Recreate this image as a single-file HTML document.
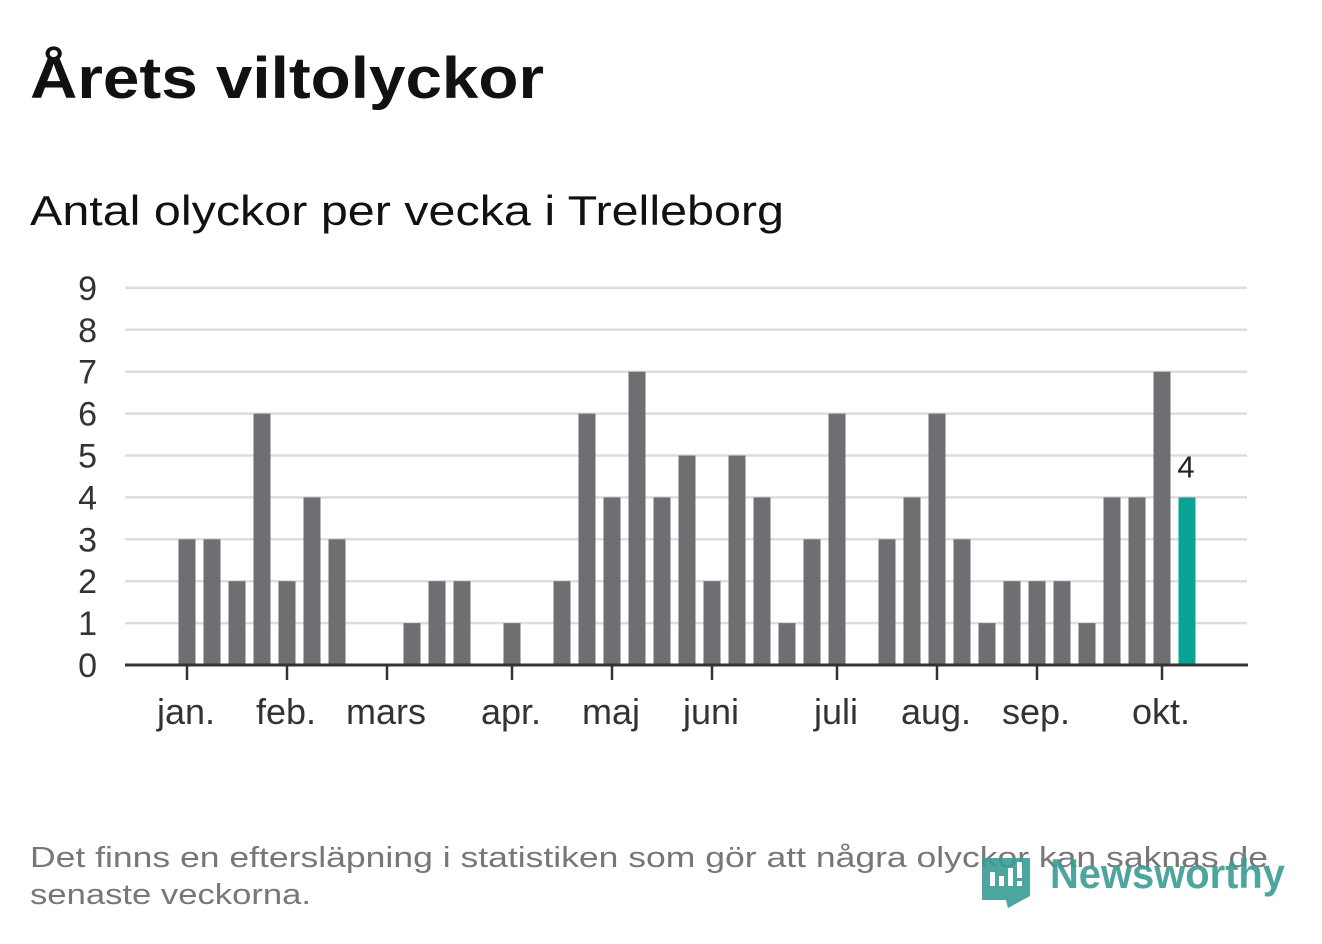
<!DOCTYPE html>
<html><head><meta charset="utf-8"><style>
body{margin:0;background:#fff;width:1322px;height:939px;overflow:hidden;font-family:"Liberation Sans",sans-serif;}
svg text{font-family:"Liberation Sans",sans-serif;}
</style></head><body>
<svg id="c" width="1322" height="939">
<text x="30" y="98" font-size="58" font-weight="bold" fill="#111" textLength="514" lengthAdjust="spacingAndGlyphs">Årets viltolyckor</text>
<text x="30" y="225" font-size="42" fill="#111" textLength="754" lengthAdjust="spacingAndGlyphs">Antal olyckor per vecka i Trelleborg</text>
<g id="grid"></g><g id="bars"></g><g id="xax"></g>
<text x="30" y="867" font-size="29" fill="#777" textLength="1238" lengthAdjust="spacingAndGlyphs">Det finns en eftersläpning i statistiken som gör att några olyckor kan saknas de</text>
<text x="30" y="904" font-size="29" fill="#777" textLength="281" lengthAdjust="spacingAndGlyphs">senaste veckorna.</text>
<g opacity="0.9">
<path d="M982 858 h48 v38 l-22 12 l-2 -8 h-24 z" fill="#3a9c94"/>
<rect x="990" y="872" width="5" height="14" fill="#fff"/><rect x="999" y="876" width="5" height="10" fill="#fff"/><rect x="1008" y="868" width="5" height="18" fill="#fff"/><rect x="1017" y="862" width="5" height="16" fill="#fff"/><rect x="1017" y="881" width="5" height="5" fill="#fff"/>
<text x="1050" y="888" font-size="42" font-weight="bold" fill="#3a9c94" textLength="235" lengthAdjust="spacingAndGlyphs">Newsworthy</text>
</g>
</svg>
<script>
const values=[3,3,2,6,2,4,3,0,0,1,2,2,0,1,0,2,6,4,7,4,5,2,5,4,1,3,6,0,3,4,6,3,1,2,2,2,1,4,4,7,4];
const yTicks=[0,1,2,3,4,5,6,7,8,9];
const months=["jan.","feb.","mars","apr.","maj","juni","juli","aug.","sep.","okt."];
const monthWeek=[0,4,8,13,17,21,26,30,34,39];
const NS="http://www.w3.org/2000/svg";
const x=i=>187+i*25, y=v=>665-v*41.9;
function mk(t,a,p){const e=document.createElementNS(NS,t);for(const k in a)e.setAttribute(k,a[k]);p.appendChild(e);return e;}
const g=document.getElementById('grid'),b=document.getElementById('bars'),xa=document.getElementById('xax');
yTicks.forEach(v=>{
 if(v>0){const l=mk('line',{x1:125,x2:1247,y1:y(v),y2:y(v),stroke:'#ddd','stroke-width':2.5},g);
 
 }
 const t=mk('text',{x:97,y:y(v)+12,'font-size':34,fill:'#333','text-anchor':'end'},g);t.textContent=v;
 
 
});
values.forEach((v,i)=>{
 const last=i===values.length-1;
 const r=mk('rect',{x:x(i)-8.5,y:y(v),width:17,height:v*41.9,fill:last?'#0ca397':'#6f6e73'},b);
 
 
 if(last){const t=mk('text',{x:x(i)-1,y:y(v)-20,'font-size':31,fill:'#222','text-anchor':'middle'},b);t.textContent=v;
 
 }
});
const ax=mk('line',{x1:125,x2:1248,y1:665,y2:665,stroke:'#333','stroke-width':3},xa);


months.forEach((m,k)=>{
 const px=x(monthWeek[k]);
 const tk=mk('line',{x1:px,x2:px,y1:665,y2:680,stroke:'#333','stroke-width':2.5},xa);
 
 
 const t=mk('text',{x:px-1,y:724,'font-size':36,fill:'#333','text-anchor':'middle'},xa);t.textContent=m;
 
 
});
</script>
</body></html>
